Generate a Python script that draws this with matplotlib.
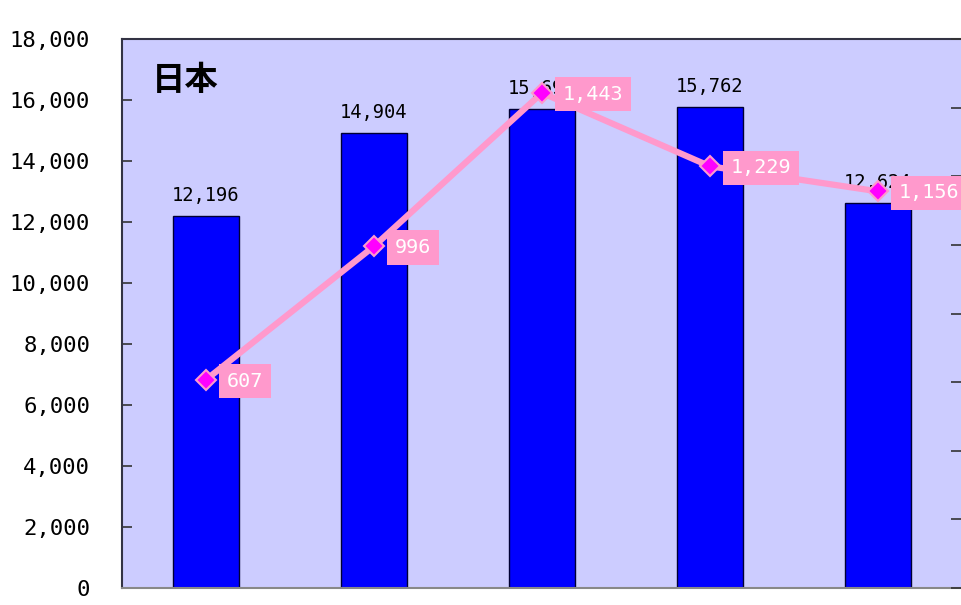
import matplotlib.pyplot as plt
from matplotlib.ticker import FuncFormatter

plt.rcParams['font.family'] = ['Noto Sans CJK JP', 'DejaVu Sans']
num_font = ['DejaVu Sans Mono', 'DejaVu Sans']

# データ
categories = ["2004", "2005", "2006", "2007", "2008"]
bar_values = [12196, 14904, 15693, 15762, 12624]
line_values = [607, 996, 1443, 1229, 1156]
title_text = "日本"

fig = plt.figure(figsize=(9.61, 6.05), dpi=100)
ax = fig.add_axes([122 / 961, 17 / 605, 840 / 961, 549 / 605])
ax.set_facecolor("#CCCCFF")

x = list(range(len(categories)))
ax.bar(x, bar_values, width=0.395, color="#0000FF", edgecolor="#000033", linewidth=1, zorder=2)
ax.set_xlim(-0.5, len(categories) - 0.5)
ax.set_ylim(0, 18000)
ax.set_yticks(range(0, 18001, 2000))
ax.yaxis.set_major_formatter(FuncFormatter(lambda v, p: f"{int(v):,}"))
ax.tick_params(axis="y", direction="in", length=7, width=1.2, labelsize=16, pad=23, colors="#333333", labelcolor="black")
for lbl in ax.get_yticklabels():
    lbl.set_family(num_font)
ax.set_xticks([])
for s in ["left", "top"]:
    ax.spines[s].set_color("#333344")
    ax.spines[s].set_linewidth(1.5)
ax.spines["bottom"].set_color("#888888")
ax.spines["bottom"].set_linewidth(1.5)
ax.spines["right"].set_visible(False)

for xi, v in zip(x, bar_values):
    ax.annotate(f"{v:,}", (xi, v), xytext=(0, 8), textcoords="offset points",
                ha="center", va="bottom", fontsize=13.5, family=num_font, color="black", zorder=3)

ax.text(0.036, 0.925, title_text, transform=ax.transAxes, fontsize=24, fontweight="bold",
        ha="left", va="center")

# 右軸
ax2 = ax.twinx()
ax2.set_ylim(0, 1600)
ax2.set_yticks(range(0, 1601, 200))
ax2.tick_params(axis="y", direction="in", length=8, width=1.2, colors="#333333", labelright=False)
for s in ["left", "top", "bottom", "right"]:
    ax2.spines[s].set_visible(False)

ax2.plot(x, line_values, color="#FF99CC", linewidth=4.5, marker="D", markersize=10,
         markerfacecolor="#FF00FF", markeredgecolor="#FF99CC", markeredgewidth=1.5, zorder=4)
for xi, v in zip(x, line_values):
    ax2.annotate(f"{v:,}", (xi, v), xytext=(15, -1), textcoords="offset points",
                 ha="left", va="center", fontsize=14.5, family=num_font, color="white", zorder=5,
                 bbox=dict(boxstyle="square,pad=0.38", fc="#FF99CC", ec="none"))

fig.savefig("out.png", dpi=100)
